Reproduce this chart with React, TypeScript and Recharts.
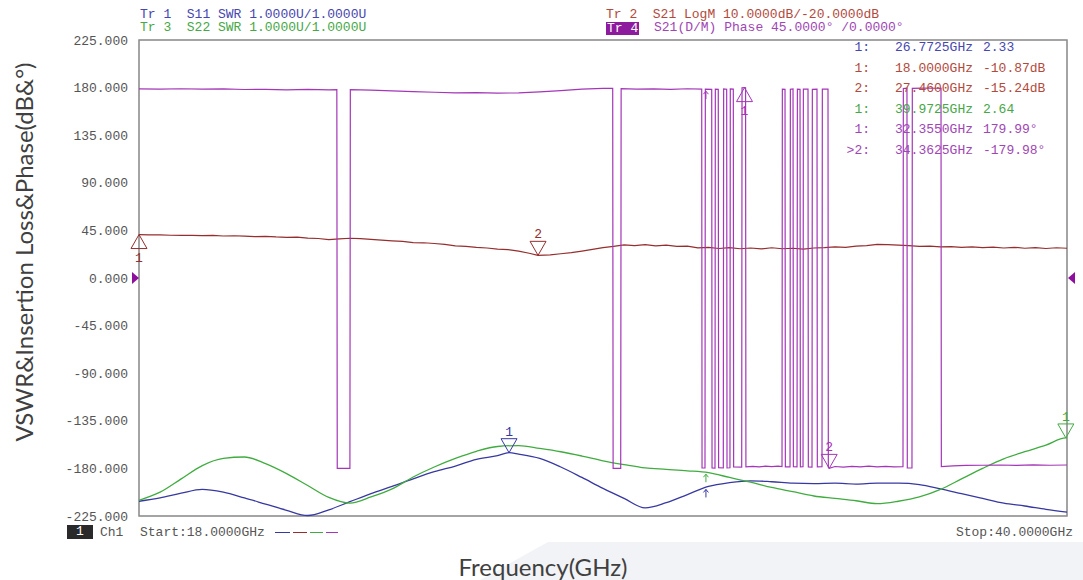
import React from 'react';
import {
  ComposedChart,
  Line,
  XAxis,
  YAxis,
  CartesianGrid,
  ReferenceDot,
  ReferenceArea,
} from 'recharts';

// sweep 18–40 GHz, 10 divisions
const FREQ_TICKS = [18, 20.2, 22.4, 24.6, 26.8, 29, 31.2, 33.4, 35.6, 37.8, 40];
const DEG_TICKS = [-225, -180, -135, -90, -45, 0, 45, 90, 135, 180, 225];

// Tr1 S11 SWR (1 U/div, ref 1.0 at bottom)
const s11Swr: [number, number][] = [
  [18, 1.31], [18.5, 1.38], [19, 1.48], [19.5, 1.56], [20, 1.5], [20.5, 1.38],
  [21, 1.25], [21.5, 1.12], [22, 1.01], [22.5, 1.13], [23, 1.3], [23.5, 1.47],
  [24, 1.62], [24.5, 1.78], [25, 1.93], [25.5, 2.05], [26, 2.19], [26.5, 2.27],
  [26.7725, 2.33], [27, 2.3], [27.5, 2.21], [28, 2.03], [28.5, 1.81], [29, 1.58],
  [29.5, 1.37], [30, 1.17], [30.5, 1.28], [31, 1.45], [31.5, 1.62], [32, 1.7],
  [32.5, 1.74], [33, 1.72], [33.5, 1.69], [34, 1.68], [34.5, 1.69], [35, 1.67],
  [35.5, 1.69], [36, 1.69], [36.5, 1.66], [37, 1.57], [37.5, 1.47], [38, 1.37],
  [38.5, 1.27], [39, 1.21], [39.5, 1.14], [40, 1.08],
];

// Tr3 S22 SWR
const s22Swr: [number, number][] = [
  [18, 1.33], [18.5, 1.5], [19, 1.78], [19.5, 2.06], [20, 2.21], [20.5, 2.24],
  [21, 2.1], [21.5, 1.89], [22, 1.64], [22.5, 1.39], [23, 1.27], [23.5, 1.4],
  [24, 1.57], [24.5, 1.82], [25, 2.03], [25.5, 2.21], [26, 2.36], [26.5, 2.46],
  [27, 2.48], [27.5, 2.42], [28, 2.35], [28.5, 2.26], [29, 2.16], [29.5, 2.08],
  [30, 2.01], [30.5, 1.98], [31, 1.95], [31.5, 1.91], [32, 1.81], [32.5, 1.71],
  [33, 1.6], [33.5, 1.51], [34, 1.42], [34.5, 1.37], [35, 1.32], [35.5, 1.26],
  [36, 1.31], [36.5, 1.4], [37, 1.56], [37.5, 1.78], [38, 2.0], [38.5, 2.2],
  [39, 2.35], [39.5, 2.49], [39.9725, 2.64], [40, 2.64],
];

// Tr2 S21 LogM (10 dB/div, ref -20 dB at centre)
const s21LogM: [number, number][] = [
  [18, -10.87], [18.25, -10.95], [18.5, -10.92], [18.75, -11.02], [19, -11.05],
  [19.25, -11.03], [19.5, -11.1], [19.75, -11.06], [20, -11.18], [20.25, -11.12],
  [20.5, -11.22], [20.75, -11.3], [21, -11.25], [21.25, -11.38], [21.5, -11.46],
  [21.75, -11.4], [22, -11.62], [22.25, -11.7], [22.5, -11.95], [22.75, -11.8],
  [23, -11.65], [23.25, -11.72], [23.5, -11.9], [23.75, -12.05], [24, -12.2],
  [24.25, -12.32], [24.5, -12.55], [24.75, -12.6], [25, -12.75], [25.25, -12.95],
  [25.5, -13.25], [25.75, -13.35], [26, -13.55], [26.25, -13.7], [26.5, -13.92],
  [26.75, -14.05], [27, -14.35], [27.25, -14.8], [27.46, -15.24], [27.75, -15.15],
  [28, -14.9], [28.25, -14.65], [28.5, -14.35], [28.75, -14.0], [29, -13.6],
  [29.25, -13.35], [29.5, -13.05], [29.75, -13.2], [30, -13.0], [30.25, -13.25],
  [30.5, -13.1], [30.75, -13.35], [31, -13.3], [31.25, -13.65], [31.5, -13.55],
  [31.75, -13.8], [32, -13.6], [32.25, -13.85], [32.5, -13.7], [32.75, -13.9],
  [33, -13.65], [33.25, -13.85], [33.5, -13.75], [33.75, -13.95], [34, -13.7],
  [34.25, -13.6], [34.5, -13.45], [34.75, -13.55], [35, -13.3], [35.25, -13.2],
  [35.5, -12.95], [35.75, -13.0], [36, -13.1], [36.25, -13.2], [36.5, -13.35],
  [36.75, -13.3], [37, -13.45], [37.25, -13.4], [37.5, -13.55], [37.75, -13.45],
  [38, -13.6], [38.25, -13.5], [38.5, -13.7], [38.75, -13.55], [39, -13.75],
  [39.25, -13.6], [39.5, -13.8], [39.75, -13.65], [40, -13.75],
];

// Tr4 S21 phase (45°/div), wrapping at ±180°
const s21Phase: [number, number][] = [
  [18, 178.8], [18.5, 178.6], [19, 178.9], [19.5, 178.5], [20, 178.7], [20.5, 178.2],
  [21, 178.4], [21.5, 177.9], [22, 178.3], [22.5, 177.8], [22.69, 178.0], [22.7, -179.9],
  [23.0, -179.9], [23.01, 178.1], [23.5, 177.6], [24, 176.9], [24.5, 176.2], [25, 175.6],
  [25.5, 175.0], [26, 175.2], [26.5, 174.8], [27, 175.0], [27.5, 176.0], [28, 177.2],
  [28.5, 178.6], [29, 179.3], [29.23, 179.2], [29.24, -179.9], [29.42, -179.9],
  [29.43, 179.0], [29.8, 178.6], [30.2, 178.8], [30.6, 178.3], [31.0, 178.9],
  [31.34, 178.6], [31.348, -179.6], [31.418, -179.6], [31.426, 178.5],
  [31.577, 178.3], [31.585, -179.5], [31.655, -179.7], [31.663, 178.6],
  [31.733, 178.4], [31.741, -179.3], [31.852, -179.6], [31.86, 178.7],
  [31.932, 178.5], [31.94, -179.6], [32.01, -179.4], [32.018, 178.8],
  [32.089, 178.6], [32.097, -178.5], [32.288, -178.7], [32.296, 179.9],
  [32.355, 179.99], [32.38, 179.8], [32.388, -178.6],
  [32.55, -178.0], [32.7, -178.6], [32.85, -177.9], [33.0, -178.4], [33.15, -177.8],
  [33.244, -178.3], [33.252, 178.6], [33.315, 178.4], [33.323, -178.5],
  [33.434, -178.6], [33.442, 178.5], [33.505, 178.7], [33.513, -178.4],
  [33.6, -178.5], [33.608, 178.6], [33.671, 178.4], [33.679, -178.6],
  [33.742, -178.3], [33.75, 178.5], [33.86, 178.6], [33.868, -178.5],
  [33.955, -178.7], [33.963, 178.4], [34.073, 178.5], [34.081, -178.6],
  [34.192, -178.4], [34.2, 178.6], [34.334, 178.5], [34.342, -179.0],
  [34.3625, -179.98], [34.5, -178.2], [34.7, -178.7], [34.9, -178.0], [35.1, -178.6],
  [35.3, -177.9], [35.5, -178.5], [35.7, -178.1], [35.9, -178.6], [36.112, -178.3],
  [36.12, 179.2], [36.206, 179.4], [36.214, -179.5], [36.325, -179.6], [36.333, 179.3],
  [36.6, 179.5], [36.9, 179.4], [37.013, 179.3], [37.021, -178.2],
  [37.3, -177.6], [37.6, -177.2], [38, -177.0], [38.4, -176.8], [38.8, -177.1],
  [39.2, -176.7], [39.6, -177.0], [40, -176.8],
];

const BLUE = '#3838a2';
const RED = '#952e2e';
const GREEN = '#40ac40';
const PURPLE = '#a436b8';

const TXT_BLUE = '#4646b0';
const TXT_RED = '#b24a3c';
const TXT_GREEN = '#46a846';
const TXT_PURPLE = '#a046b4';

const MONO = '"Liberation Mono", monospace';

const markers = [
  { axis: 'swr', f: 26.7725, v: 2.33, label: '1', dir: 'down', color: BLUE, text: TXT_BLUE, fmt: '2.33' },
  { axis: 'db', f: 18, v: -10.87, label: '1', dir: 'up', color: RED, text: TXT_RED, fmt: '-10.87dB' },
  { axis: 'db', f: 27.46, v: -15.24, label: '2', dir: 'down', color: RED, text: TXT_RED, fmt: '-15.24dB' },
  { axis: 'swr', f: 39.9725, v: 2.64, label: '1', dir: 'down', color: GREEN, text: TXT_GREEN, fmt: '2.64' },
  { axis: 'deg', f: 32.355, v: 179.99, label: '1', dir: 'up', color: PURPLE, text: TXT_PURPLE, fmt: '179.99°' },
  { axis: 'deg', f: 34.3625, v: -179.98, label: '2', dir: 'down', color: PURPLE, text: TXT_PURPLE, fmt: '-179.98°', active: true },
];

// little stimulus arrows sitting under the traces
const arrows = [
  { axis: 'deg', f: 31.44, v: 178.5, color: PURPLE },
  { axis: 'swr', f: 31.44, v: 1.92, color: GREEN },
  { axis: 'swr', f: 31.44, v: 1.6, color: BLUE },
];

const rows = (pts: [number, number][]) => pts.map(([f, v]) => ({ f, v }));

function MarkerShape({ cx, cy, m }: any) {
  if (cx == null || cy == null) return null;
  if (m.dir === 'down') {
    return (
      <g>
        <polygon
          points={`${cx},${cy} ${cx - 8},${cy - 14} ${cx + 8},${cy - 14}`}
          fill="none"
          stroke={m.color}
          strokeWidth={1}
        />
        <text x={cx} y={cy - 17} textAnchor="middle" fill={m.color} fontSize={13} fontFamily={MONO}>
          {m.label}
        </text>
      </g>
    );
  }
  return (
    <g>
      <polygon
        points={`${cx},${cy} ${cx - 8},${cy + 14} ${cx + 8},${cy + 14}`}
        fill="none"
        stroke={m.color}
        strokeWidth={1}
      />
      <text x={cx} y={cy + 27} textAnchor="middle" fill={m.color} fontSize={13} fontFamily={MONO}>
        {m.label}
      </text>
    </g>
  );
}

function ArrowShape({ cx, cy, color }: any) {
  if (cx == null || cy == null) return null;
  return (
    <g stroke={color} strokeWidth={1} fill="none">
      <line x1={cx} y1={cy + 2} x2={cx} y2={cy + 10} />
      <polyline points={`${cx - 2.5},${cy + 5} ${cx},${cy + 2} ${cx + 2.5},${cy + 5}`} />
    </g>
  );
}

// y tick label placed through the deg scale, just left of the frame
function DegTick({ cx, cy, value }: any) {
  if (cx == null || cy == null) return null;
  return (
    <text x={cx - 11} y={cy} dy="0.35em" textAnchor="end" fill="#555" fontSize={13} fontFamily={MONO}>
      {value.toFixed(3)}
    </text>
  );
}

const abs = (style: React.CSSProperties): React.CSSProperties => ({
  position: 'absolute',
  whiteSpace: 'pre',
  fontFamily: MONO,
  fontSize: 13,
  lineHeight: '12px',
  ...style,
});

export default function App() {
  return (
    <div style={{ position: 'relative', width: 1083, height: 580, background: '#fff', overflow: 'hidden' }}>
      <style>{'body{margin:0}'}</style>
      <div
        style={{
          position: 'absolute',
          inset: 0,
          background: '#f2f3f7',
          clipPath: 'polygon(480px 580px, 548px 542px, 1083px 542px, 1083px 580px)',
        }}
      />
      <ComposedChart width={1083} height={580} margin={{ top: 40, right: 16, bottom: 63, left: 0 }}>
        <CartesianGrid yAxisId="deg" stroke="#c9c9c9" strokeWidth={1} />
        <XAxis
          dataKey="f"
          type="number"
          domain={[18, 40]}
          ticks={FREQ_TICKS}
          tick={false}
          axisLine={false}
          tickLine={false}
          height={1}
        />
        <YAxis
          yAxisId="deg"
          type="number"
          domain={[-225, 225]}
          ticks={DEG_TICKS}
          width={139}
          axisLine={false}
          tickLine={false}
          tick={false}
        />
        <YAxis yAxisId="swr" type="number" domain={[1, 11]} hide />
        <YAxis yAxisId="db" type="number" domain={[-70, 30]} hide />
        <ReferenceArea
          yAxisId="deg"
          x1={18}
          x2={40}
          y1={-225}
          y2={225}
          fill="none"
          stroke="#8e8e8e"
          strokeWidth={1.5}
        />
        {DEG_TICKS.map((t) => (
          <ReferenceDot
            key={`t-${t}`}
            yAxisId="deg"
            x={18}
            y={t}
            r={0}
            ifOverflow="visible"
            shape={(p: any) => <DegTick {...p} value={t} />}
          />
        ))}
        <Line
          yAxisId="db"
          data={rows(s21LogM)}
          dataKey="v"
          type="linear"
          stroke={RED}
          strokeWidth={1.2}
          dot={false}
          isAnimationActive={false}
        />
        <Line
          yAxisId="swr"
          data={rows(s11Swr)}
          dataKey="v"
          type="monotone"
          stroke={BLUE}
          strokeWidth={1.3}
          dot={false}
          isAnimationActive={false}
        />
        <Line
          yAxisId="swr"
          data={rows(s22Swr)}
          dataKey="v"
          type="monotone"
          stroke={GREEN}
          strokeWidth={1.3}
          dot={false}
          isAnimationActive={false}
        />
        <Line
          yAxisId="deg"
          data={rows(s21Phase)}
          dataKey="v"
          type="linear"
          stroke={PURPLE}
          strokeWidth={1.2}
          dot={false}
          isAnimationActive={false}
        />
        {markers.map((m, i) => (
          <ReferenceDot
            key={`m-${i}`}
            yAxisId={m.axis}
            x={m.f}
            y={m.v}
            r={0}
            ifOverflow="visible"
            shape={(p: any) => <MarkerShape {...p} m={m} />}
          />
        ))}
        {arrows.map((a, i) => (
          <ReferenceDot
            key={`a-${i}`}
            yAxisId={a.axis}
            x={a.f}
            y={a.v}
            r={0}
            shape={(p: any) => <ArrowShape {...p} color={a.color} />}
          />
        ))}
        <ReferenceDot
          yAxisId="deg"
          x={18}
          y={0}
          r={0}
          ifOverflow="visible"
          shape={(p: any) => (
            <polygon points={`${p.cx - 7},${p.cy - 6} ${p.cx},${p.cy} ${p.cx - 7},${p.cy + 6}`} fill="#8e0f9e" />
          )}
        />
        <ReferenceDot
          yAxisId="deg"
          x={40}
          y={0}
          r={0}
          ifOverflow="visible"
          shape={(p: any) => (
            <polygon points={`${p.cx + 1},${p.cy} ${p.cx + 8},${p.cy - 6} ${p.cx + 8},${p.cy + 6}`} fill="#8e0f9e" />
          )}
        />
      </ComposedChart>

      {/* trace headers */}
      <div style={abs({ left: 140, top: 9, color: TXT_BLUE })}>{'Tr 1  S11 SWR 1.0000U/1.0000U'}</div>
      <div style={abs({ left: 140, top: 22, color: TXT_GREEN })}>{'Tr 3  S22 SWR 1.0000U/1.0000U'}</div>
      <div style={abs({ left: 606, top: 9, color: TXT_RED })}>{'Tr 2  S21 LogM 10.0000dB/-20.0000dB'}</div>
      <div style={abs({ left: 606, top: 22, color: '#fff', background: '#8e1a9e', padding: '0 1px', lineHeight: '13px' })}>{'Tr 4'}</div>
      <div style={abs({ left: 654, top: 22, color: TXT_PURPLE })}>{'S21(D/M) Phase 45.0000° /0.0000°'}</div>

      {/* marker table */}
      {markers.map((m, i) => {
        const top = 42 + i * 20.6;
        return (
          <React.Fragment key={`row-${i}`}>
            <div style={abs({ left: 830, width: 40, top, color: m.text, textAlign: 'right' })}>
              {`${m.active ? '>' : ''}${m.label}:`}
            </div>
            <div style={abs({ left: 895, top, color: m.text })}>{`${m.f.toFixed(4)}GHz`}</div>
            <div style={abs({ left: 983, top, color: m.text })}>{m.fmt}</div>
          </React.Fragment>
        );
      })}

      {/* footer */}
      <div style={abs({ left: 67, top: 525, width: 26, height: 14, background: '#2a2a2a', color: '#fff', textAlign: 'center', lineHeight: '14px' })}>1</div>
      <div style={abs({ left: 100, top: 527, color: '#555' })}>Ch1</div>
      <div style={abs({ left: 140, top: 527, color: '#555' })}>Start:18.0000GHz</div>
      <div style={{ position: 'absolute', left: 275, top: 532, width: 15, height: 1.3, background: BLUE }} />
      <div style={{ position: 'absolute', left: 293, top: 532, width: 14, height: 1.3, background: RED }} />
      <div style={{ position: 'absolute', left: 310, top: 532, width: 13, height: 1.3, background: GREEN }} />
      <div style={{ position: 'absolute', left: 326, top: 532, width: 12, height: 1.3, background: PURPLE }} />
      <div style={abs({ right: 10, top: 527, color: '#555' })}>Stop:40.0000GHz</div>

      {/* axis titles */}
      <div
        style={{
          position: 'absolute',
          left: 23,
          top: 252,
          transform: 'translate(-50%, -50%) rotate(-90deg)',
          whiteSpace: 'nowrap',
          fontFamily: 'Lato, "Noto Sans", sans-serif',
          fontSize: 24,
          color: '#404040',
        }}
      >
        {'VSWR&Insertion Loss&Phase(dB&°)'}
      </div>
      <div
        style={{
          position: 'absolute',
          left: 543,
          top: 566,
          transform: 'translate(-50%, -50%)',
          whiteSpace: 'nowrap',
          fontFamily: 'Lato, "Noto Sans", sans-serif',
          fontSize: 24,
          color: '#404040',
        }}
      >
        Frequency(GHz)
      </div>
    </div>
  );
}
